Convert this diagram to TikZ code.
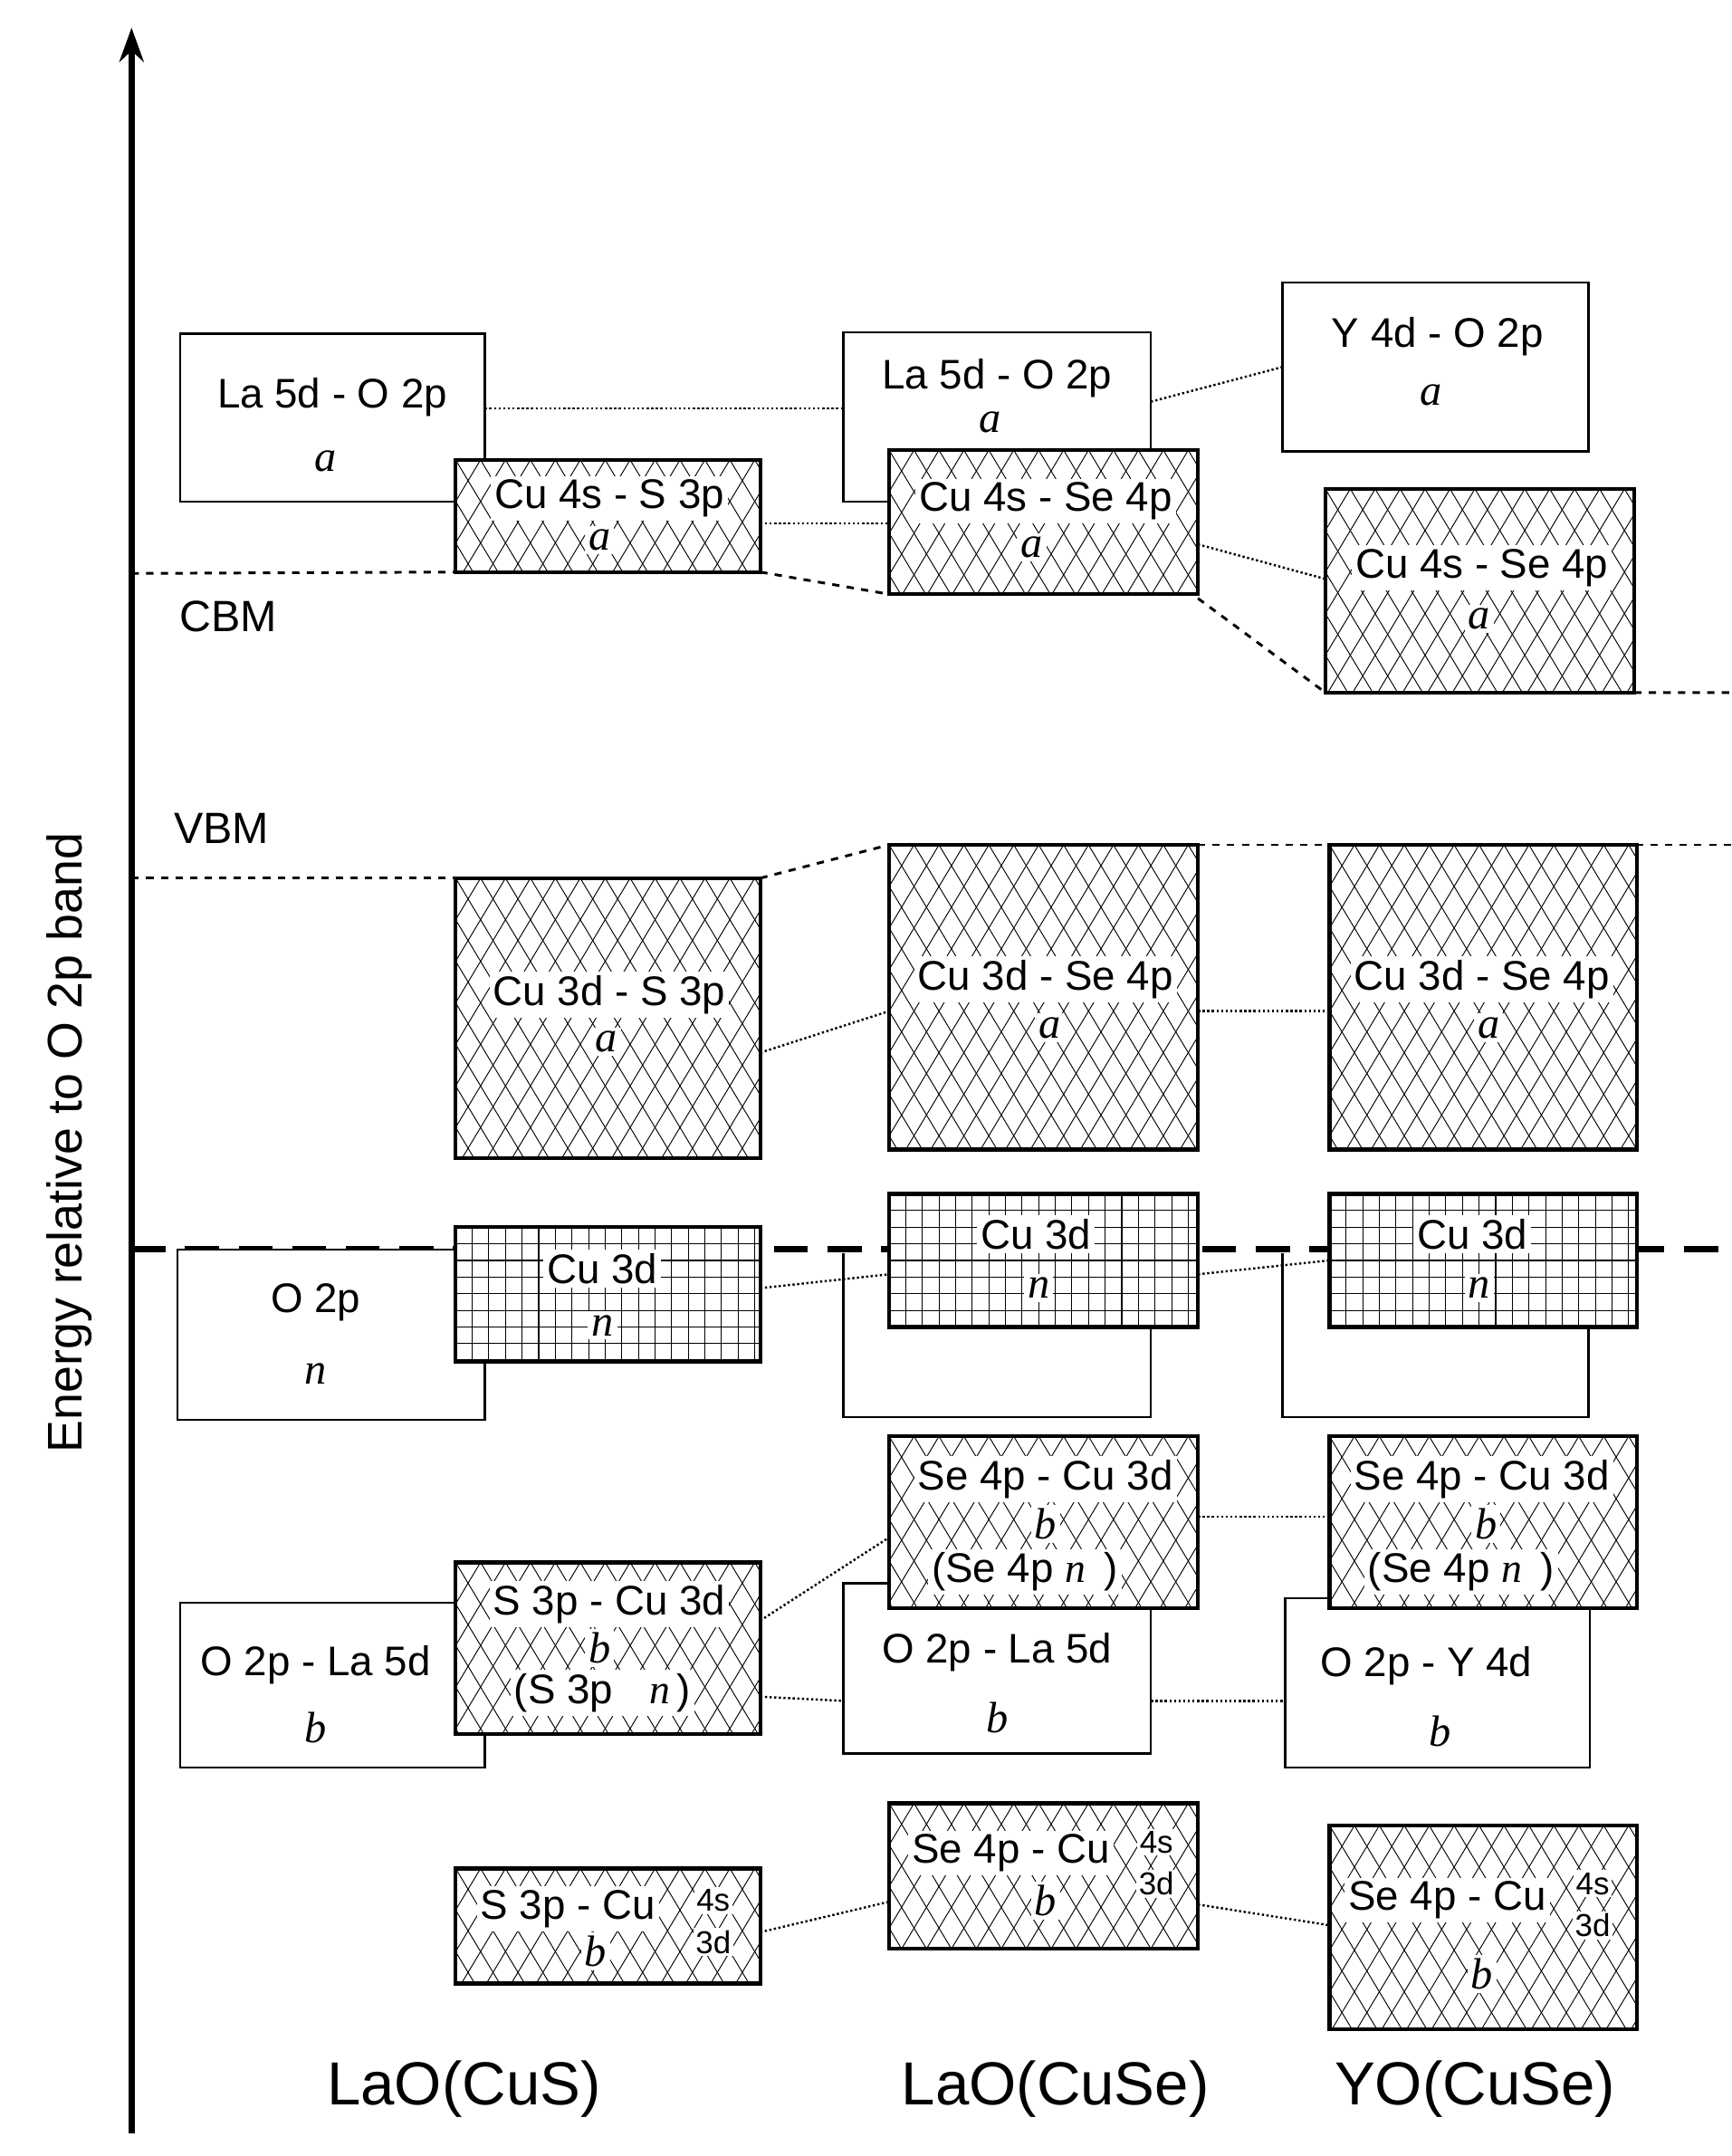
\documentclass[tikz,border=0pt]{standalone}
\usepackage{fontspec}
\setmainfont{Liberation Sans}
\newfontfamily\serifit{Liberation Serif}
\usetikzlibrary{calc,arrows.meta}
\begin{document}
\begin{tikzpicture}[x=0.02cm,y=-0.02cm,
  sz/.style 2 args={minimum width=#1*0.02cm,minimum height=#2*0.02cm},
  box/.style={draw,line width=0.9pt,fill=white,anchor=north west,inner sep=0,outer sep=0},
  tbox/.style={box,line width=1.6pt},
  hatch/.style={tbox,path picture={
     \foreach \k in {-15,...,26}{
       \draw[line width=0.35pt] ($(path picture bounding box.north west)+(\k*18,0)$) -- ++(150,250);
       \draw[line width=0.35pt] ($(path picture bounding box.north west)+(\k*18,0)$) -- ++(-150,250);}}},
  grid/.style={tbox,path picture={
     \foreach \k in {0,...,20}{
       \draw[line width=0.4pt] ($(path picture bounding box.north west)+(\k*12,0)$) -- ++(0,200);
       \draw[line width=0.4pt] ($(path picture bounding box.north west)+(0,\k*12)$) -- ++(240,0);}}},
  lab/.style={font=\fontsize{17}{19}\selectfont,fill=white,inner sep=1.5pt},
  it/.style={font=\serifit\itshape\fontsize{18}{20}\selectfont,fill=white,inner sep=1.5pt},
  sm/.style={font=\fontsize{13}{14}\selectfont,fill=white,inner sep=1pt},
  con/.style={densely dotted,line width=0.9pt},
  dsh/.style={dashed,line width=1.1pt},
  big/.style={font=\fontsize{25}{28}\selectfont}]
\useasboundingbox (0,0) rectangle (1250,1556.6);
% axis
\coordinate (a0) at (95,1540); \coordinate (a1) at (95,20);
\draw[line width=2.4pt,-{Stealth[length=14pt,width=10pt]}] (a0) -- (a1);
\node[rotate=90,font=\fontsize{20}{22}\selectfont] (ylab) at (50,825) {Energy relative to O 2p band};
% thick dashed O2p line
\coordinate (f0) at (95,902); \coordinate (f1) at (1250,902);
\draw[line width=2.6pt,dash pattern=on 14pt off 8pt] (f0) -- (f1);
% ---------- LaO(CuS)
\node[box,sz={220}{121}] (s1) at (130,241) {};
\node[hatch,sz={220}{81}] (s2) at (329,332) {};
\node[hatch,sz={220}{202}] (s3) at (329,634) {};
\node[box,sz={222}{123}] (s4) at (128,902) {};
\node[grid,sz={220}{97}] (s5) at (329,886) {};
\node[box,sz={220}{119}] (s6) at (130,1157) {};
\node[hatch,sz={220}{124}] (s7) at (329,1128) {};
\node[hatch,sz={220}{83}] (s8) at (329,1349) {};
% ---------- LaO(CuSe)
\node[box,sz={222}{122}] (e1) at (609,240) {};
\node[hatch,sz={223}{104}] (e2) at (642,325) {};
\node[hatch,sz={223}{220}] (e3) at (642,610) {};
\coordinate (e4a) at (609,905); \coordinate (e4b) at (609,1023); \coordinate (e4c) at (831,1023); \coordinate (e4d) at (831,958);
\draw[line width=0.9pt] (e4a) -- (e4b) -- (e4c) -- (e4d);
\node[grid,sz={223}{96}] (e5) at (642,862) {};
\node[box,sz={222}{123}] (e6) at (609,1143) {};
\node[hatch,sz={223}{124}] (e7) at (642,1037) {};
\node[hatch,sz={223}{105}] (e8) at (642,1302) {};
% ---------- YO(CuSe)
\node[box,sz={221}{122}] (y1) at (926,204) {};
\node[hatch,sz={223}{147}] (y2) at (957,353) {};
\node[hatch,sz={222}{220}] (y3) at (960,610) {};
\coordinate (y4a) at (926,905); \coordinate (y4b) at (926,1023); \coordinate (y4c) at (1147,1023); \coordinate (y4d) at (1147,958);
\draw[line width=0.9pt] (y4a) -- (y4b) -- (y4c) -- (y4d);
\node[grid,sz={222}{96}] (y5) at (960,862) {};
\node[box,sz={220}{122}] (y6) at (928,1154) {};
\node[hatch,sz={222}{124}] (y7) at (960,1037) {};
\node[hatch,sz={222}{147}] (y8) at (960,1318) {};
% ---------- texts
\node[lab] at (240,287) {La 5d - O 2p}; \node[it] at (235,333) {a};
\node[lab] at (440,360) {Cu 4s - S 3p}; \node[it] at (433,390) {a};
\node[lab] at (440,718) {Cu 3d - S 3p}; \node[it] at (438,752) {a};
\node[lab] at (228,940) {O 2p}; \node[it] at (228,992) {n};
\node[lab] at (435,916) {Cu 3d}; \node[it] at (435,957) {n};
\node[lab] at (228,1202) {O 2p - La 5d}; \node[it] at (228,1247) {b};
\node[lab] at (440,1158) {S 3p - Cu 3d}; \node[it] at (433,1190) {b};
\node[lab] at (435,1222) {(S 3p \hspace{0.6em}\textit{\serifit n}\,)};
\node[lab] at (410,1378) {S 3p - Cu}; \node[sm] at (515,1372) {4s}; \node[sm] at (515,1402) {3d}; \node[it] at (430,1409) {b};
\node[lab] at (720,273) {La 5d - O 2p}; \node[it] at (715,305) {a};
\node[lab] at (755,362) {Cu 4s - Se 4p}; \node[it] at (745,395) {a};
\node[lab] at (755,707) {Cu 3d - Se 4p}; \node[it] at (758,742) {a};
\node[lab] at (748,891) {Cu 3d}; \node[it] at (750,930) {n};
\node[lab] at (755,1068) {Se 4p - Cu 3d}; \node[it] at (755,1100) {b};
\node[lab] at (740,1135) {(Se 4p \textit{\serifit n}\, )};
\node[lab] at (720,1193) {O 2p - La 5d}; \node[it] at (720,1240) {b};
\node[lab] at (730,1338) {Se 4p - Cu}; \node[sm] at (835,1330) {4s}; \node[sm] at (835,1360) {3d}; \node[it] at (755,1372) {b};
\node[lab] at (1038,243) {Y 4d - O 2p}; \node[it] at (1033,285) {a};
\node[lab] at (1070,410) {Cu 4s - Se 4p}; \node[it] at (1068,447) {a};
\node[lab] at (1070,707) {Cu 3d - Se 4p}; \node[it] at (1075,742) {a};
\node[lab] at (1063,891) {Cu 3d}; \node[it] at (1068,930) {n};
\node[lab] at (1070,1068) {Se 4p - Cu 3d}; \node[it] at (1073,1100) {b};
\node[lab] at (1055,1135) {(Se 4p \textit{\serifit n}\, )};
\node[lab] at (1030,1203) {O 2p - Y 4d}; \node[it] at (1040,1250) {b};
\node[lab] at (1045,1372) {Se 4p - Cu}; \node[sm] at (1150,1360) {4s}; \node[sm] at (1150,1390) {3d}; \node[it] at (1070,1425) {b};
% ---------- CBM / VBM
\node[font=\fontsize{18}{20}\selectfont] (cbm) at (165,445) {CBM};
\node[font=\fontsize{18}{20}\selectfont] (vbm) at (160,598) {VBM};
\coordinate (c0) at (95,414); \coordinate (c5) at (1250,500);
\draw[dsh] (c0) -- (s2.south west);
\draw[dsh] (s2.south east) -- (e2.south west);
\draw[dsh] (e2.south east |- 0,432) -- (y2.south west);
\draw[dsh] (y2.south east) -- (c5);
\coordinate (v0) at (95,634); \coordinate (v5) at (1250,610);
\draw[dsh] (v0) -- (s3.north west);
\draw[dsh] (s3.north east) -- (e3.north west);
\draw[dashed,line width=0.8pt] (e3.north east) -- (v5);
% ---------- dotted connectors
\draw[con] (s1.east |- 0,295) -- (e1.west |- 0,295);
\draw[con] (e1.east |- 0,290) -- (y1.west |- 0,265);
\draw[con] (s2.east |- 0,378) -- (e2.west |- 0,378);
\draw[con] (e2.east |- 0,393) -- (y2.west |- 0,418);
\draw[con] (s3.east |- 0,760) -- (e3.west |- 0,730);
\draw[con] (e3.east |- 0,730) -- (y3.west |- 0,730);
\draw[con] (s5.east |- 0,930) -- (e5.west |- 0,920);
\draw[con] (e5.east |- 0,920) -- (y5.west |- 0,910);
\draw[con] (s7.east |- 0,1170) -- (e7.west |- 0,1110);
\draw[con] (e7.east |- 0,1095) -- (y7.west |- 0,1095);
\draw[con] (s7.east |- 0,1225) -- (e6.west |- 0,1228);
\draw[con] (e6.east |- 0,1228) -- (y6.west |- 0,1228);
\draw[con] (s8.east |- 0,1395) -- (e8.west |- 0,1373);
\draw[con] (e8.east |- 0,1375) -- (y8.west |- 0,1390);
% ---------- bottom labels
\node[big] at (335,1508) {LaO(CuS)};
\node[big] at (762,1508) {LaO(CuSe)};
\node[big] at (1065,1508) {YO(CuSe)};
\end{tikzpicture}
\end{document}
